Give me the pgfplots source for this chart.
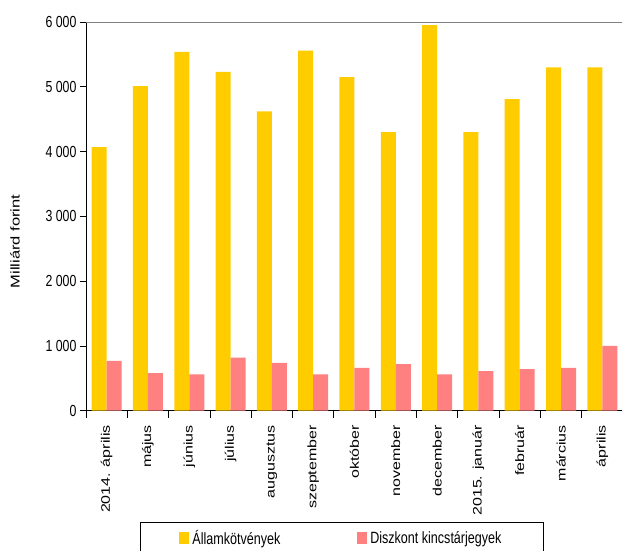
\documentclass[border=0pt]{standalone}
\usepackage{fontspec}
\setmainfont{Liberation Sans}
\newfontfamily\sqfont[FakeStretch=0.77]{Liberation Sans}
\usepackage{pgfplots}
\pgfplotsset{compat=1.18}

\definecolor{allam}{HTML}{FFCC00}
\definecolor{diszk}{HTML}{FF8080}
% squeeze rotated labels the same way as the horizontal ones
\newcommand\sq[1]{\scalebox{1}[0.77]{#1}}

\begin{document}
\begin{tikzpicture}
\useasboundingbox (-86pt,-139.3pt) rectangle (536pt,410.7pt);
\begin{axis}[
    at={(0pt,0pt)}, anchor=south west,
    width=537pt, height=388.7pt, scale only axis,
    ybar=0pt, bar width=15pt,
    ymin=0, ymax=6000,
    xmin=-0.5, xmax=12.5,
    axis x line*=bottom, axis y line*=left,
    axis line style={black, line width=0.8pt},
    tick align=outside,
    major tick length=6pt,
    minor tick length=7pt,
    ytick={0,1000,...,6000},
    yticklabels={0,1 000,2 000,3 000,4 000,5 000,6 000},
    yticklabel style={font=\fontsize{16}{19}\sqfont},
    ytick style={black, line width=0.8pt},
    extra y ticks={6000},
    extra y tick labels={},
    extra y tick style={grid=major, major grid style={gray, line width=1pt}},
    xtick={0,...,12},
    xticklabels={\sq{2014. április}, \sq{május}, \sq{június}, \sq{július},
        \sq{augusztus}, \sq{szeptember}, \sq{október}, \sq{november},
        \sq{december}, \sq{2015. január}, \sq{február}, \sq{március}, \sq{április}},
    xticklabel style={rotate=90, anchor=east, font=\fontsize{16}{19}\selectfont},
    xticklabel shift=5pt,
    major x tick style={draw=none},
    minor xtick={-0.5,0.5,...,12.5},
    minor x tick style={black, line width=0.8pt},
    ylabel={\sq{Milliárd forint}},
    ylabel style={at={(axis description cs:-0.132,0.435)}, anchor=center,
        font=\fontsize{16.5}{19}\selectfont},
    legend columns=2,
    legend image code/.code={\fill[#1] (0pt,-6.3pt) rectangle (10pt,6.3pt);},
    legend style={at={(axis description cs:0.1006,-0.2856)}, anchor=north west,
        draw=black, line width=0.8pt, font=\fontsize{16.3}{19}\sqfont,
        inner xsep=39pt, inner ysep=8pt,
        nodes={inner xsep=3pt, inner ysep=0pt},
        /tikz/every even column/.append style={column sep=74pt}},
]
\addplot[fill=allam, draw=none] coordinates {
    (0,4070) (1,5010) (2,5540) (3,5230) (4,4620) (5,5560) (6,5150)
    (7,4300) (8,5950) (9,4300) (10,4810) (11,5300) (12,5300)};
\addplot[fill=diszk, draw=none] coordinates {
    (0,770) (1,580) (2,560) (3,820) (4,740) (5,560) (6,660)
    (7,720) (8,560) (9,610) (10,640) (11,660) (12,1000)};
\legend{Államkötvények, Diszkont kincstárjegyek}
\end{axis}
\end{tikzpicture}
\end{document}
